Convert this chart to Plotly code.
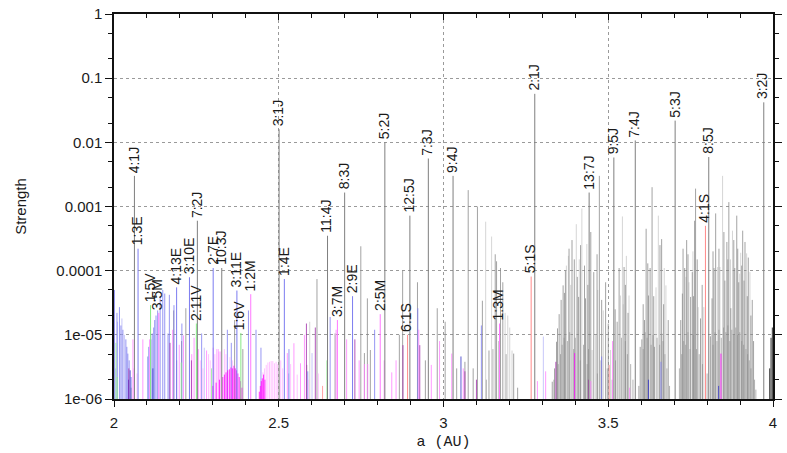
import math
import plotly.graph_objects as go

# ---- labelled mean-motion resonances -------------------------------------
res_names = ["4:1J", "1:3E", "1:5V", "3:5M", "4:13E", "3:10E", "2:11V", "7:2J", "2:7E",
             "10:3J", "3:11E", "1:6V", "1:2M", "3:1J", "1:4E", "11:4J", "3:7M", "8:3J",
             "2:9E", "2:5M", "5:2J", "6:1S", "12:5J", "7:3J", "9:4J", "1:3M", "5:1S",
             "2:1J", "13:7J", "9:5J", "7:4J", "5:3J", "4:1S", "8:5J", "3:2J"]
res_a = [2.062, 2.073, 2.111, 2.136, 2.190, 2.229, 2.250, 2.253, 2.301,
         2.327, 2.373, 2.385, 2.415, 2.501, 2.517, 2.648, 2.678, 2.700,
         2.724, 2.808, 2.822, 2.891, 2.898, 2.954, 3.029, 3.170, 3.266,
         3.277, 3.442, 3.517, 3.582, 3.703, 3.795, 3.805, 3.972]
res_strength = [3.0e-3, 2.2e-4, 2.9e-5, 2.2e-5, 5.5e-5, 7.9e-5, 1.5e-5, 6.0e-4, 1.1e-4,
                1.1e-4, 4.9e-5, 1.07e-5, 4.3e-5, 1.6e-2, 7.4e-5, 3.5e-4, 1.7e-5, 1.65e-3,
                4.0e-5, 2.1e-5, 1.0e-2, 1.0e-5, 7.2e-4, 5.6e-3, 3.0e-3, 1.5e-5, 8.1e-5,
                5.7e-2, 1.65e-3, 5.8e-3, 1.07e-2, 2.18e-2, 5.0e-4, 5.9e-3, 4.2e-2]

# ---- unlabelled resonances, grouped by perturbing planet / shade ----------
jup_light_a = [2.594, 3.128, 3.146, 3.187, 3.195, 3.201, 3.208, 3.373, 3.379, 3.403,
               3.420, 3.451, 3.462, 3.485, 3.507, 3.537, 3.543, 3.555, 3.563, 3.645,
               3.652, 3.663, 3.670, 3.675, 3.745, 3.773, 3.790, 3.832, 3.839, 3.847,
               3.877, 3.902, 3.920, 3.930,
               3.386, 3.412, 3.435, 3.468, 3.545, 3.736, 3.757, 3.871, 3.899]
jup_light_s = [1.6e-5, 5.8e-4, 3.4e-4, 2.2e-5, 2.0e-5, 1.3e-5, 5.7e-6, 1.2e-4, 1.7e-4, 5.3e-4,
               9.3e-4, 5.8e-6, 1.0e-5, 2.4e-5, 5.8e-6, 4.1e-5, 7.0e-4, 1.7e-4, 4.1e-5, 5.5e-5,
               7.2e-4, 1.05e-5, 1.1e-4, 5.9e-5, 6.6e-5, 2.7e-5, 2.7e-5, 1.14e-4, 1.14e-4, 3.0e-3,
               4.2e-4, 1.9e-4, 1.86e-4, 9.5e-5,
               6.0e-5, 1.5e-4, 2.6e-4, 5.0e-5, 3.0e-5, 8.0e-5, 2.0e-4, 1.5e-4, 9.0e-5]

jup_mid_a = [2.052, 2.181, 2.205, 2.218, 2.366, 2.391, 2.585, 2.616, 2.671, 2.749,
             2.760, 2.769, 2.778, 2.866, 2.876, 2.921, 2.945, 2.981, 3.005, 3.040,
             3.065, 3.075, 3.090, 3.103, 3.118, 3.138, 3.157, 3.161, 3.173, 3.180,
             3.213, 3.225,
             3.330, 3.337, 3.343, 3.346, 3.351, 3.357, 3.363, 3.370, 3.390, 3.410,
             3.431, 3.456, 3.473, 3.492, 3.527, 3.533, 3.548, 3.593, 3.597, 3.602,
             3.610, 3.615, 3.622, 3.627, 3.633, 3.640, 3.662, 3.682, 3.720, 3.725,
             3.732, 3.738, 3.750, 3.755, 3.762, 3.765, 3.780, 3.810, 3.815, 3.821,
             3.826, 3.854, 3.860, 3.866, 3.872, 3.884, 3.890, 3.896, 3.908, 3.915,
             3.925, 3.937, 3.941,
             3.367, 3.381, 3.397, 3.406, 3.416, 3.428, 3.438, 3.447, 3.466, 3.480,
             3.500, 3.521, 3.552, 3.560, 3.606, 3.620, 3.638, 3.657, 3.668, 3.727,
             3.742, 3.759, 3.770, 3.785, 3.818, 3.836, 3.851, 3.863, 3.881, 3.893,
             3.905, 3.912, 3.922, 3.933]
jup_mid_s = [1.5e-6, 2.4e-5, 8.0e-6, 2.6e-5, 1.7e-5, 6.0e-6, 3.4e-6, 7.4e-5, 1.05e-5, 2.4e-4,
             5.2e-6, 3.7e-5, 5.8e-6, 1.0e-5, 1.0e-4, 6.6e-5, 4.0e-6, 2.6e-5, 1.6e-5, 3.0e-6,
             3.8e-6, 1.8e-3, 3.0e-6, 1.0e-3, 3.4e-5, 5.7e-6, 1.8e-4, 1.4e-4, 1.1e-4, 6.6e-5,
             5.1e-6, 1.5e-6,
             1.86e-6, 3.0e-6, 7.8e-6, 1.26e-5, 2.1e-5, 3.5e-5, 5.9e-5, 1.0e-4, 3.0e-4, 3.9e-5,
             3.7e-5, 9.5e-5, 3.0e-3, 6.6e-5, 1.6e-5, 1.1e-4, 1.14e-4, 1.6e-6, 6.5e-6, 8.5e-6,
             1.7e-5, 4.5e-4, 4.1e-5, 1.1e-4, 2.0e-3, 6.5e-6, 3.1e-4, 1.7e-5, 1.7e-5, 4.4e-5,
             1.1e-4, 3.0e-4, 3.9e-5, 9.5e-5, 6.0e-4, 1.9e-3, 1.8e-5, 9.5e-6, 3.7e-5, 1.1e-4,
             7.8e-4, 7.0e-5, 2.8e-4, 1.17e-3, 2.6e-5, 1.1e-4, 7.2e-4, 6.6e-5, 4.2e-4, 2.8e-4,
             1.6e-4, 3.5e-5, 8.0e-6,
             4.5e-5, 2.2e-4, 1.5e-4, 8.0e-5, 2.5e-4, 1.2e-4, 6.0e-5, 4.0e-4, 1.8e-4, 3.5e-5,
             1.5e-5, 2.5e-5, 6.0e-5, 2.2e-5, 3.0e-5, 1.3e-4, 4.0e-5, 2.5e-4, 3.0e-5, 2.2e-4,
             1.8e-4, 4.0e-5, 1.5e-4, 6.0e-5, 2.0e-4, 2.2e-4, 4.0e-4, 1.5e-4, 3.0e-4, 2.2e-4,
             1.2e-4, 7.0e-5, 4.0e-5, 2.0e-5]

jup_dark_a = [3.130, 3.150, 3.168, 3.190,
              3.335, 3.348, 3.355, 3.360, 3.366, 3.376, 3.383, 3.395, 3.400, 3.415,
              3.425, 3.436, 3.440, 3.467, 3.478, 3.497, 3.512, 3.522, 3.540, 3.552,
              3.558, 3.568, 3.575, 3.606, 3.612, 3.618, 3.630, 3.636, 3.648, 3.656,
              3.666, 3.672, 3.678, 3.686, 3.716, 3.723, 3.729, 3.735, 3.742, 3.748,
              3.758, 3.768, 3.776, 3.786, 3.800, 3.818, 3.824, 3.830, 3.836, 3.843,
              3.850, 3.857, 3.863, 3.869, 3.875, 3.881, 3.887, 3.893, 3.899, 3.905,
              3.911, 3.918, 3.923, 3.928, 3.933, 3.944, 3.948]
jup_dark_s = [2.0e-6, 6.0e-6, 8.0e-6, 5.0e-6,
              2.0e-6, 3.5e-6, 5.0e-6, 7.0e-6, 9.0e-6, 8.0e-6, 1.1e-5, 6.0e-6, 9.0e-6, 4.0e-6,
              7.0e-6, 3.5e-6, 6.0e-6, 2.5e-6, 4.0e-6, 3.0e-6, 2.0e-6, 4.0e-6, 9.0e-6, 8.0e-6,
              5.0e-6, 3.5e-6, 2.0e-6, 6.0e-6, 1.1e-5, 9.0e-6, 7.0e-6, 1.0e-5, 9.0e-6, 7.0e-6,
              8.0e-6, 5.0e-6, 3.0e-6, 1.6e-6, 3.0e-6, 5.0e-6, 8.0e-6, 7.0e-6, 1.1e-5, 6.0e-6,
              1.0e-5, 6.0e-6, 5.0e-6, 3.5e-6, 2.5e-6, 7.0e-6, 1.1e-5, 8.0e-6, 1.2e-5, 9.0e-6,
              1.3e-5, 1.1e-5, 1.4e-5, 8.0e-6, 1.2e-5, 1.0e-5, 1.3e-5, 1.0e-5, 1.1e-5, 8.0e-6,
              7.0e-6, 6.0e-6, 5.0e-6, 4.0e-6, 3.0e-6, 2.0e-6, 1.4e-6]

edge_a = [3.990, 3.994, 3.998]
edge_s = [3.0e-6, 9.0e-6, 1.3e-5]

earth_a = [2.0015, 2.009, 2.0165, 2.021, 2.027, 2.036, 2.039, 2.042, 2.046, 2.052,
           2.1025, 2.1055, 2.112, 2.116, 2.1205, 2.1235, 2.1275, 2.1325, 2.140, 2.148,
           2.154, 2.164, 2.168, 2.182, 2.206, 2.266, 2.344, 2.356, 2.408, 2.431,
           2.446, 2.531, 2.588, 2.656, 2.791, 2.922, 3.115, 3.480, 3.660]
earth_s = [5.0e-5, 2.2e-5, 2.7e-5, 1.4e-5, 1.2e-5, 8.5e-6, 6.5e-6, 5.1e-6, 4.0e-6, 2.2e-6,
           4.6e-6, 6.5e-6, 8.5e-6, 1.05e-5, 1.3e-5, 1.7e-5, 2.0e-5, 2.4e-5, 4.0e-5, 5.0e-5,
           4.4e-5, 1.05e-5, 4.2e-5, 2.9e-5, 1.5e-5, 1.05e-5, 1.2e-5, 7.5e-6, 2.4e-5, 1.2e-5,
           6.3e-6, 6.0e-6, 2.7e-6, 1.9e-5, 1.2e-5, 2.6e-5, 1.4e-5, 4.6e-6, 3.8e-6]
earth_light_a = [2.004, 2.0105, 2.024, 2.0315, 2.274, 2.530, 2.601, 3.303]
earth_light_s = [3.0e-6, 1.6e-5, 1.8e-5, 1.0e-5, 6.3e-6, 2.5e-6, 5.2e-6, 9.4e-6]
earth_dark_a = [2.044, 2.049, 2.118, 3.053, 3.622, 3.835]
earth_dark_s = [2.0e-6, 2.8e-6, 3.0e-6, 4.6e-6, 2.0e-6, 1.6e-6]

venus_a = [2.006, 2.010, 2.204, 2.296, 2.646]
venus_s = [7.5e-6, 2.2e-6, 3.7e-6, 3.0e-6, 4.0e-6]

mars_a = [2.0575, 2.0875, 2.108, 2.178, 2.198, 2.211, 2.236, 2.243, 2.256, 2.281,
          2.301, 2.316, 2.322, 2.526, 2.546, 2.566, 2.578, 2.674, 2.706, 2.744,
          2.760, 2.770, 2.820, 2.843, 2.856, 2.925, 2.963, 2.988, 3.025, 3.060,
          3.285, 3.310, 3.447, 3.513, 3.565]
mars_s = [8.5e-6, 8.5e-6, 8.5e-6, 1.2e-5, 7.0e-6, 9.8e-6, 5.0e-6, 9.0e-6, 6.0e-6, 5.7e-6,
          6.3e-6, 6.0e-6, 5.5e-6, 5.2e-6, 7.4e-6, 3.6e-6, 1.0e-5, 1.2e-5, 8.5e-6, 4.0e-6,
          3.5e-6, 3.5e-6, 4.0e-6, 2.6e-6, 4.0e-6, 1.2e-5, 3.4e-6, 8.0e-6, 5.1e-6, 3.0e-6,
          1.9e-6, 2.7e-6, 1.9e-6, 8.0e-6, 1.5e-6]
mars_light_a = [2.060, 2.070, 2.262, 2.270, 2.287, 2.292, 2.306, 2.311, 2.318, 2.335,
                2.340, 2.352, 2.360, 2.447, 2.452, 2.457, 2.462, 2.467, 2.472, 2.477,
                2.482, 2.487, 2.492, 2.497, 2.506, 2.512, 2.536, 2.556, 2.590, 2.620]
mars_light_s = [3.0e-6, 2.5e-6, 4.0e-6, 3.0e-6, 5.0e-6, 4.0e-6, 5.0e-6, 6.0e-6, 5.5e-6, 6.0e-6,
                5.0e-6, 4.5e-6, 4.0e-6, 2.0e-6, 2.6e-6, 3.0e-6, 3.4e-6, 3.7e-6, 3.8e-6, 3.9e-6,
                3.9e-6, 3.6e-6, 3.8e-6, 3.5e-6, 4.0e-6, 3.0e-6, 3.5e-6, 2.4e-6, 2.0e-6, 2.5e-6]
mars_vivid_a = [2.300, 2.310, 2.320, 2.330, 2.335, 2.340, 2.345, 2.350, 2.355, 2.360,
                2.364, 2.368, 2.372, 2.376, 2.380, 2.384, 2.388, 2.441, 2.444, 2.447,
                2.450, 2.454, 2.458, 3.398, 3.842]
mars_vivid_s = [1.6e-6, 1.8e-6, 2.0e-6, 2.2e-6, 2.4e-6, 2.6e-6, 2.8e-6, 2.9e-6, 3.1e-6, 3.0e-6,
                3.3e-6, 3.0e-6, 2.8e-6, 2.5e-6, 2.2e-6, 1.9e-6, 1.5e-6, 1.3e-6, 1.6e-6, 1.9e-6,
                2.1e-6, 2.4e-6, 2.0e-6, 5.2e-6, 5.1e-6]
mars_dark_a = [2.045, 2.170, 2.190, 2.235, 2.584, 2.611, 2.731, 2.877, 2.928, 3.065,
               3.100, 3.341, 3.440]
mars_dark_s = [3.0e-6, 7.5e-6, 4.0e-6, 4.0e-6, 1.5e-5, 1.3e-5, 8.5e-6, 6.9e-6, 6.9e-6, 2.7e-6,
               2.0e-6, 3.8e-6, 2.0e-6]

saturn_a = [2.633, 3.503]
saturn_s = [1.6e-6, 3.4e-6]

x_tick_vals = [2, 2.5, 3, 3.5, 4]
x_tick_text = ["2", "2.5", "3", "3.5", "4"]
y_tick_vals = [1e-6, 1e-5, 1e-4, 1e-3, 1e-2, 1e-1, 1]
y_tick_text = ["1e-06", "1e-05", "0.0001", "0.001", "0.01", "0.1", "1"]

FLOOR = 1e-6
body_color = {"J": "#7f7f7f", "E": "#7c7cf0", "V": "#86e886", "M": "#ff78ff", "S": "#ff8a8a"}
SANS = "Liberation Sans, Arial, sans-serif"


def stems(a_vals, s_vals):
    xs, ys = [], []
    for a, s in zip(a_vals, s_vals):
        xs += [a, a, None]
        ys += [FLOOR, s, None]
    return xs, ys


fig = go.Figure()

groups = [
    (jup_light_a, jup_light_s, "#cacaca"),
    (jup_dark_a, jup_dark_s, "#a0a0a0"),
    (jup_mid_a, jup_mid_s, "#8c8c8c"),
    (edge_a, edge_s, "#000000"),
    (earth_light_a, earth_light_s, "#b8b8f8"),
    (earth_a, earth_s, "#7c7cf0"),
    (earth_dark_a, earth_dark_s, "#3434c8"),
    (venus_a, venus_s, "#90ee90"),
    (mars_light_a, mars_light_s, "#ffb4ff"),
    (mars_a, mars_s, "#ff80ff"),
    (mars_vivid_a, mars_vivid_s, "#ff00ff"),
    (mars_dark_a, mars_dark_s, "#a02ca8"),
    (saturn_a, saturn_s, "#ff8a8a"),
]
for a_vals, s_vals, col in groups:
    xs, ys = stems(a_vals, s_vals)
    fig.add_trace(go.Scatter(x=xs, y=ys, mode="lines", line=dict(color=col, width=0.8),
                             hoverinfo="skip", showlegend=False))

# labelled resonances on top, coloured by perturber
for body in body_color:
    sel = [i for i, n in enumerate(res_names) if n[-1] == body]
    xs, ys = stems([res_a[i] for i in sel], [res_strength[i] for i in sel])
    fig.add_trace(go.Scatter(x=xs, y=ys, mode="lines",
                             line=dict(color=body_color[body], width=1),
                             hoverinfo="skip", showlegend=False))

annotations = []
for n, a, s in zip(res_names, res_a, res_strength):
    annotations.append(dict(x=a, y=math.log10(s), xref="x", yref="y", text=n,
                            textangle=-90, xanchor="center", yanchor="bottom",
                            showarrow=False, xshift=-1, yshift=1,
                            font=dict(family=SANS, size=14, color="#1a1a1a")))

# helper trace so the top axis (inward ticks) is rendered
fig.add_trace(go.Scatter(x=[2, 4], y=[FLOOR, FLOOR], xaxis="x2", mode="markers",
                         marker=dict(opacity=0), hoverinfo="skip", showlegend=False))

tick_font = dict(family=SANS, size=15, color="#1a1a1a")
fig.update_layout(
    width=787, height=453,
    margin=dict(l=114, r=5, t=13, b=54),
    paper_bgcolor="white", plot_bgcolor="white",
    annotations=annotations,
    xaxis=dict(range=[2, 4], tickvals=x_tick_vals, ticktext=x_tick_text,
               showline=True, linecolor="#111", linewidth=1.5, mirror=True,
               ticks="outside", ticklen=6, tickcolor="#111", tickfont=tick_font,
               ticklabelstandoff=3,
               showgrid=True, gridcolor="#9a9a9a", griddash="dot", gridwidth=1,
               minor=dict(dtick=0.1, tick0=2, ticks="outside", ticklen=4,
                          tickcolor="#111", showgrid=False),
               zeroline=False,
               title=dict(text="a (AU)", standoff=6,
                          font=dict(family="Liberation Mono, Courier New, monospace",
                                    size=15, color="#1a1a1a"))),
    xaxis2=dict(range=[2, 4], overlaying="x", side="top", tickvals=x_tick_vals,
                ticks="inside", ticklen=6, tickcolor="#111", showticklabels=False,
                showgrid=False, zeroline=False, showline=False,
                minor=dict(dtick=0.1, tick0=2, ticks="inside", ticklen=4,
                           tickcolor="#111", showgrid=False)),
    yaxis=dict(type="log", range=[-6, 0], tickvals=y_tick_vals, ticktext=y_tick_text,
               showline=True, linecolor="#111", linewidth=1.5, mirror="ticks",
               ticks="outside", ticklen=7, tickcolor="#111", tickfont=tick_font,
               showgrid=True, gridcolor="#9a9a9a", griddash="dot", gridwidth=1,
               minor=dict(dtick="D2", ticks="outside", ticklen=4, tickcolor="#111",
                          showgrid=False),
               zeroline=False,
               title=dict(text="Strength", standoff=26,
                          font=dict(family=SANS, size=15, color="#1a1a1a"))),
)

fig.write_html("out.html")
